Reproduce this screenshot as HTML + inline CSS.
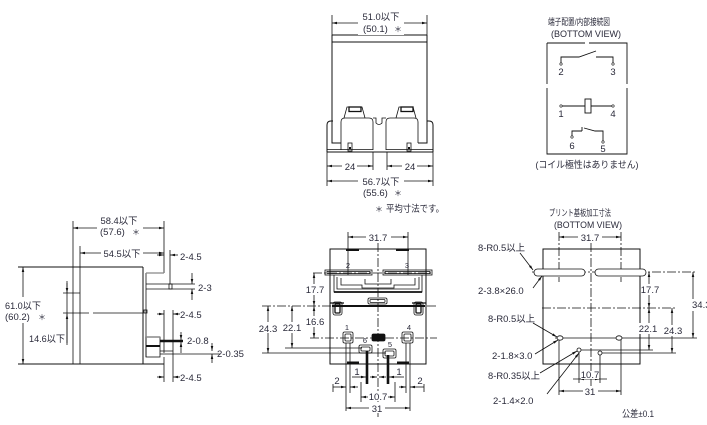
<!DOCTYPE html>
<html><head><meta charset="utf-8">
<style>
html,body{margin:0;padding:0;background:#fff;}
svg{display:block;}
text{font-family:"Liberation Sans","Noto Sans CJK JP",sans-serif;font-size:9.5px;fill:#2a2a3a;}
.s{font-size:7.5px;}
.st{font-family:"Noto Sans CJK JP","Liberation Sans",sans-serif;font-size:8px;}
</style></head><body>
<svg xmlns="http://www.w3.org/2000/svg" width="707" height="425" viewBox="0 0 707 425">
<defs>
<marker id="a" viewBox="0 0 8 4" refX="8" refY="2" markerWidth="5" markerHeight="2.6" markerUnits="userSpaceOnUse" orient="auto-start-reverse"><path d="M0,0L8,2L0,4z" fill="#111"/></marker>
</defs>

<!-- ================= TOP VIEW ================= -->
<g fill="none" stroke="#111" stroke-width="0.8">
<path d="M332,15V35M427,15V35"/>
<line x1="332" y1="23" x2="427" y2="23" marker-start="url(#a)" marker-end="url(#a)"/>
<path d="M332,35H427M332,42H427M332,35V143H341M427,35V143H418" stroke-width="1"/>
<path d="M327,152V125Q327,121 331,121H333M433,152V125Q433,121 429,121H427M327,152H433" stroke-width="1"/>
<path d="M327,149.5H373M386,149.5H433"/>
<path d="M341,150V122Q341,118 345,118H369Q373,118 373,122V150"/>
<path d="M386,150V122Q386,118 390,118H414Q418,118 418,122V143"/>
<path d="M373,118H376V123Q379,126 382,123V118H386"/>
<path d="M344,118L347,107H362L365,118M396,118L399,107H413L416,118"/>
<rect x="349" y="107" width="12" height="4.5" stroke-width="1.3"/>
<rect x="401" y="107" width="12" height="4.5" stroke-width="1.3"/>
<rect x="348" y="143" width="4" height="8"/>
<rect x="407" y="143" width="4" height="8"/>
<path d="M349,148H351M408,148H410" stroke-width="2"/>
<path d="M327,152V186M373,152V170M387,152V170M433,152V186"/>
<line x1="327" y1="166" x2="373" y2="166" marker-start="url(#a)" marker-end="url(#a)"/>
<line x1="387" y1="166" x2="433" y2="166" marker-start="url(#a)" marker-end="url(#a)"/>
<line x1="327" y1="181" x2="433" y2="181" marker-start="url(#a)" marker-end="url(#a)"/>
</g>
<g fill="#fff">
<rect x="358" y="10" width="46" height="25"/>
<rect x="342" y="160" width="15" height="11"/>
<rect x="402" y="160" width="15" height="11"/>
<rect x="358" y="174" width="46" height="24"/>
</g>
<text x="381" y="20" text-anchor="middle" textLength="37" lengthAdjust="spacingAndGlyphs">51.0以下</text>
<text x="363" y="32">(50.1)</text><text class="st" x="394" y="32">＊</text>
<text x="350" y="170" text-anchor="middle">24</text>
<text x="410" y="170" text-anchor="middle">24</text>
<text x="381" y="185" text-anchor="middle" textLength="37" lengthAdjust="spacingAndGlyphs">56.7以下</text>
<text x="363" y="196">(55.6)</text><text class="st" x="394" y="196">＊</text>
<text class="st" x="375" y="212">＊</text>
<text x="386" y="212" textLength="58" lengthAdjust="spacingAndGlyphs">平均寸法です。</text>

<!-- ================= SCHEMATIC ================= -->
<text x="548" y="25" style="font-size:9px" textLength="62" lengthAdjust="spacingAndGlyphs">端子配置/内部接続図</text>
<text x="586" y="37" text-anchor="middle" textLength="70" lengthAdjust="spacingAndGlyphs">(BOTTOM VIEW)</text>
<g fill="none" stroke="#111" stroke-width="0.9">
<path d="M547,43H585M589,43H627V84M627,88V154H547V88M547,84V43"/>
<path d="M561,64V57H579L596,51"/>
<path d="M596,57H613V64"/>
<path d="M561,106H585M591,106H613"/>
<rect x="585" y="99" width="6" height="14"/>
<path d="M572,137V131H582M582,127V131M584,128L595,131H603V142"/>
</g>
<g fill="#fff" stroke="#111" stroke-width="0.6">
<circle cx="561" cy="64" r="1.2"/><circle cx="613" cy="64" r="1.2"/>
<circle cx="561" cy="106" r="1.2"/><circle cx="613" cy="106" r="1.2"/>
<circle cx="572" cy="137" r="1.2"/><circle cx="603" cy="142" r="1.2"/>
</g>
<text x="561" y="75" text-anchor="middle">2</text>
<text x="613" y="75" text-anchor="middle">3</text>
<text x="561" y="117" text-anchor="middle">1</text>
<text x="613" y="117" text-anchor="middle">4</text>
<text x="572" y="149" text-anchor="middle">6</text>
<text x="603" y="152" text-anchor="middle">5</text>
<text x="587" y="168" text-anchor="middle" textLength="103" lengthAdjust="spacingAndGlyphs">(コイル極性はありません)</text>

<!-- ================= LEFT (SIDE) VIEW ================= -->
<g fill="none" stroke="#111" stroke-width="0.8">
<path d="M73,221V364M164,221V273M80,246V364"/>
<line x1="73" y1="228" x2="164" y2="228" marker-start="url(#a)" marker-end="url(#a)"/>
<line x1="80" y1="253" x2="164" y2="253" marker-start="url(#a)" marker-end="url(#a)"/>
<path d="M18,267H143M18,364H164M143,267V364" stroke-width="1"/>
<path d="M146,273V357"/>
<path d="M146,273H164" stroke="#888" stroke-width="1.2"/>
<path d="M63,293H80"/>
<path d="M63,313H89M93,313H143"/>
<rect x="144" y="310" width="3" height="3"/>
<line x1="23" y1="267" x2="23" y2="364" marker-start="url(#a)" marker-end="url(#a)"/>
<path d="M67,281V345"/>
<line x1="67" y1="283" x2="67" y2="293" marker-end="url(#a)"/>
<line x1="67" y1="343" x2="67" y2="314" marker-end="url(#a)"/>
<path d="M146,284H195M146,289H195"/>
<rect x="169" y="284" width="3" height="5"/>
<path d="M170,250V284"/>
<line x1="157" y1="255" x2="164" y2="255" marker-end="url(#a)"/>
<line x1="178" y1="255" x2="170" y2="255" marker-end="url(#a)"/>
<line x1="192" y1="273" x2="192" y2="284" marker-end="url(#a)"/>
<line x1="192" y1="300" x2="192" y2="289" marker-end="url(#a)"/>
<path d="M164,310V353M173,310V351"/>
<line x1="157" y1="314" x2="164" y2="314" marker-end="url(#a)"/>
<line x1="180" y1="314" x2="173" y2="314" marker-end="url(#a)"/>
<rect x="146" y="337" width="14" height="20"/>
<path d="M146,337H160" stroke="#888" stroke-width="1.5"/>
<path d="M146,346H160" stroke-width="2"/>
<path d="M160,341H183" stroke-width="2.6"/>
<line x1="181" y1="332" x2="181" y2="340" marker-end="url(#a)"/>
<line x1="181" y1="353" x2="181" y2="342" marker-end="url(#a)"/>
<path d="M160,351H173M160,354H220"/>
<path d="M173,351V382M164,357V382"/>
<line x1="212" y1="343" x2="212" y2="351" marker-end="url(#a)"/>
<line x1="212" y1="363" x2="212" y2="354" marker-end="url(#a)"/>
<line x1="157" y1="377" x2="164" y2="377" marker-end="url(#a)"/>
<line x1="180" y1="377" x2="173" y2="377" marker-end="url(#a)"/>
</g>
<g fill="#fff">
<rect x="97" y="213" width="46" height="24"/>
<rect x="101" y="246" width="42" height="12"/>
<rect x="3" y="297" width="44" height="26"/>
</g>
<text x="119" y="224" text-anchor="middle" textLength="37" lengthAdjust="spacingAndGlyphs">58.4以下</text>
<text x="100" y="235">(57.6)</text><text class="st" x="132" y="235">＊</text>
<text x="122" y="257" text-anchor="middle" textLength="37" lengthAdjust="spacingAndGlyphs">54.5以下</text>
<text x="5" y="309" textLength="36" lengthAdjust="spacingAndGlyphs">61.0以下</text>
<text x="5" y="320">(60.2)</text><text class="st" x="38" y="320">＊</text>
<text x="29" y="342" textLength="36" lengthAdjust="spacingAndGlyphs">14.6以下</text>
<text x="180" y="260">2-4.5</text>
<text x="198" y="291">2-3</text>
<text x="180" y="318">2-4.5</text>
<text x="187" y="344">2-0.8</text>
<text x="217" y="357">2-0.35</text>
<text x="180" y="381">2-4.5</text>

<!-- ================= MIDDLE (BOTTOM) VIEW ================= -->
<g fill="none" stroke="#111" stroke-width="0.8">
<path d="M348,232V275M408,232V275"/>
<line x1="348" y1="237" x2="408" y2="237" marker-start="url(#a)" marker-end="url(#a)"/>
<rect x="330" y="249" width="96" height="115" stroke-width="1"/>
<path d="M378,243V418" stroke-dasharray="9 2 2 2"/>
<path d="M313,273H432" stroke-dasharray="9 2 2 2"/>
<path d="M262,306H437" stroke-dasharray="9 2 2 2"/>
<path d="M310,338H437" stroke-dasharray="9 2 2 2"/>
<path d="M285,348H362M262,353H386"/>
<line x1="314" y1="273" x2="314" y2="306" marker-start="url(#a)" marker-end="url(#a)"/>
<line x1="314" y1="306" x2="314" y2="338" marker-start="url(#a)" marker-end="url(#a)"/>
<line x1="292" y1="306" x2="292" y2="348" marker-start="url(#a)" marker-end="url(#a)"/>
<line x1="268" y1="306" x2="268" y2="353" marker-start="url(#a)" marker-end="url(#a)"/>
<rect x="325" y="270" width="47" height="5"/>
<rect x="327" y="271.5" width="43" height="2"/>
<rect x="383" y="270" width="49" height="5"/>
<rect x="385" y="271.5" width="45" height="2"/>
<path d="M334,275V292H422V275"/>
<path d="M337,277V289H419V277"/>
<path d="M341,278V285H362V288H394V285H415V278"/>
<path d="M365,279V284H391V279"/>
<path d="M334,292H422" stroke-width="1.8"/>
<path d="M332,306H425" stroke-width="2"/>
<rect x="368" y="298" width="19" height="6" rx="1.5"/>
<rect x="370" y="299.5" width="15" height="3" rx="1"/>
<rect x="333" y="302" width="9" height="13" rx="2"/>
<rect x="335" y="304" width="5" height="9" rx="1" stroke-width="1.3"/>
<rect x="414" y="302" width="9" height="13" rx="2"/>
<rect x="416" y="304" width="5" height="9" rx="1" stroke-width="1.3"/>
<path d="M330,303H344M412,303H426" stroke-width="1.2"/>
<path d="M346,250H359M396,250H409M347,362.5H359M397,362.5H409" stroke-width="2"/>
<rect x="343" y="332" width="10" height="11" rx="1.5"/>
<rect x="345" y="334" width="6" height="7" rx="1"/>
<rect x="402" y="332" width="11" height="11" rx="1.5"/>
<rect x="404" y="334" width="7" height="7" rx="1"/>
<rect x="372" y="334" width="13" height="7" rx="1.5" fill="#111"/>
<rect x="359" y="345" width="13" height="8" rx="1.5"/>
<rect x="361" y="347" width="9" height="4" rx="1"/>
<rect x="383" y="349" width="13" height="9" rx="1.5"/>
<rect x="385" y="351" width="9" height="5" rx="1"/>
<path d="M346,343V411M350,343V393M406,343V393M410,343V411"/>
<path d="M367,351V384M388,355V384" stroke-width="2.6"/>
<path d="M361,382V402M395,382V402M333,384V392M424,384V392"/>
<line x1="352" y1="377" x2="366" y2="377" marker-end="url(#a)"/>
<line x1="386" y1="377" x2="379" y2="377" marker-end="url(#a)"/>
<line x1="370" y1="377" x2="377" y2="377" marker-end="url(#a)"/>
<line x1="404" y1="377" x2="389" y2="377" marker-end="url(#a)"/>
<line x1="333" y1="387" x2="346" y2="387" marker-end="url(#a)"/>
<line x1="358" y1="387" x2="350" y2="387" marker-end="url(#a)"/>
<line x1="399" y1="387" x2="406" y2="387" marker-end="url(#a)"/>
<line x1="424" y1="387" x2="410" y2="387" marker-end="url(#a)"/>
<line x1="361" y1="397" x2="395" y2="397" marker-start="url(#a)" marker-end="url(#a)"/>
<line x1="346" y1="408" x2="410" y2="408" marker-start="url(#a)" marker-end="url(#a)"/>
</g>
<g fill="#fff">
<rect x="366" y="231" width="25" height="12"/>
<rect x="305" y="284" width="19" height="11"/>
<rect x="305" y="316" width="19" height="11"/>
<rect x="283" y="322" width="18" height="11"/>
<rect x="258" y="322" width="20" height="11"/>
<rect x="368" y="391" width="20" height="10"/>
<rect x="369" y="402" width="16" height="11"/>
</g>
<text x="378" y="241" text-anchor="middle">31.7</text>
<text class="s" x="348" y="268" text-anchor="middle">2</text>
<text class="s" x="407" y="268" text-anchor="middle">3</text>
<text x="315" y="293" text-anchor="middle">17.7</text>
<text x="315" y="325" text-anchor="middle">16.6</text>
<text x="292" y="331" text-anchor="middle">22.1</text>
<text x="268" y="332" text-anchor="middle">24.3</text>
<text class="s" x="347" y="330" text-anchor="middle">1</text>
<text class="s" x="409" y="330" text-anchor="middle">4</text>
<text class="s" x="365" y="343" text-anchor="middle">6</text>
<text class="s" x="390" y="347" text-anchor="middle">5</text>
<text x="357" y="375" text-anchor="middle">1</text>
<text x="399" y="375" text-anchor="middle">1</text>
<text x="337" y="384" text-anchor="middle">2</text>
<text x="420" y="384" text-anchor="middle">2</text>
<text x="378" y="400" text-anchor="middle">10.7</text>
<text x="377" y="412" text-anchor="middle">31</text>

<!-- ================= RIGHT (PCB) VIEW ================= -->
<text x="549" y="216" style="font-size:9px" textLength="62" lengthAdjust="spacingAndGlyphs">プリント基板加工寸法</text>
<text x="588" y="228" text-anchor="middle" textLength="68" lengthAdjust="spacingAndGlyphs">(BOTTOM VIEW)</text>
<g fill="none" stroke="#111" stroke-width="0.8">
<line x1="559" y1="237" x2="621" y2="237" marker-start="url(#a)" marker-end="url(#a)"/>
<path d="M559,232V282M621,232V282" stroke-dasharray="9 2 2 2"/>
<rect x="543" y="249" width="97" height="115" stroke-width="1"/>
<path d="M591,243V392" stroke-dasharray="9 2 2 2"/>
<path d="M532,272H697" stroke-dasharray="9 2 2 2"/>
<path d="M542,308H677" stroke-dasharray="9 2 2 2"/>
<path d="M555,338H697M577,350H653M598,353H676"/>
<rect x="534" y="269" width="51" height="7" rx="3.5" fill="#fff"/>
<rect x="595" y="269" width="51" height="7" rx="3.5" fill="#fff"/>
<ellipse cx="560" cy="338" rx="3" ry="2.2" fill="#fff"/>
<ellipse cx="619" cy="338" rx="3" ry="2.2" fill="#fff"/>
<circle cx="579" cy="350" r="2" fill="#fff"/>
<circle cx="600" cy="353" r="2" fill="#fff"/>
<line x1="649" y1="272" x2="649" y2="308" marker-start="url(#a)" marker-end="url(#a)"/>
<line x1="649" y1="308" x2="649" y2="350" marker-start="url(#a)" marker-end="url(#a)"/>
<line x1="672" y1="308" x2="672" y2="353" marker-start="url(#a)" marker-end="url(#a)"/>
<line x1="693" y1="272" x2="693" y2="338" marker-start="url(#a)" marker-end="url(#a)"/>
<path d="M579,352V383M600,355V383M559,340V395M621,340V395"/>
<line x1="579" y1="379" x2="600" y2="379" marker-start="url(#a)" marker-end="url(#a)"/>
<path d="M573,379H579M600,379H607"/>
<line x1="559" y1="391" x2="621" y2="391" marker-start="url(#a)" marker-end="url(#a)"/>
<line x1="520" y1="253" x2="533" y2="270" marker-end="url(#a)"/>
<line x1="533" y1="288" x2="542" y2="276" marker-end="url(#a)"/>
<line x1="533" y1="323" x2="557" y2="337" marker-end="url(#a)"/>
<line x1="535" y1="354" x2="558" y2="340" marker-end="url(#a)"/>
<line x1="540" y1="373" x2="577" y2="351" marker-end="url(#a)"/>
<line x1="547" y1="394" x2="579" y2="353" marker-end="url(#a)"/>
</g>
<g fill="#fff">
<rect x="578" y="231" width="24" height="12"/>
<rect x="641" y="284" width="18" height="11"/>
<rect x="639" y="323" width="19" height="11"/>
<rect x="663" y="325" width="20" height="11"/>
<rect x="692" y="299" width="15" height="12"/>
<rect x="581" y="371" width="18" height="8"/>
<rect x="583" y="386" width="15" height="10"/>
</g>
<text x="590" y="241" text-anchor="middle">31.7</text>
<text x="478" y="251" textLength="47" lengthAdjust="spacingAndGlyphs">8-R0.5以上</text>
<text x="478" y="294">2-3.8×26.0</text>
<text x="488" y="322" textLength="47" lengthAdjust="spacingAndGlyphs">8-R0.5以上</text>
<text x="492" y="359">2-1.8×3.0</text>
<text x="488" y="379" textLength="52" lengthAdjust="spacingAndGlyphs">8-R0.35以上</text>
<text x="493" y="404">2-1.4×2.0</text>
<text x="650" y="293" text-anchor="middle">17.7</text>
<text x="648" y="332" text-anchor="middle">22.1</text>
<text x="673" y="334" text-anchor="middle">24.3</text>
<text x="692" y="308">34.3</text>
<text x="590" y="378" text-anchor="middle">10.7</text>
<text x="590" y="395" text-anchor="middle">31</text>
<text x="622" y="417" textLength="32" lengthAdjust="spacingAndGlyphs">公差±0.1</text>
</svg>
</body></html>
